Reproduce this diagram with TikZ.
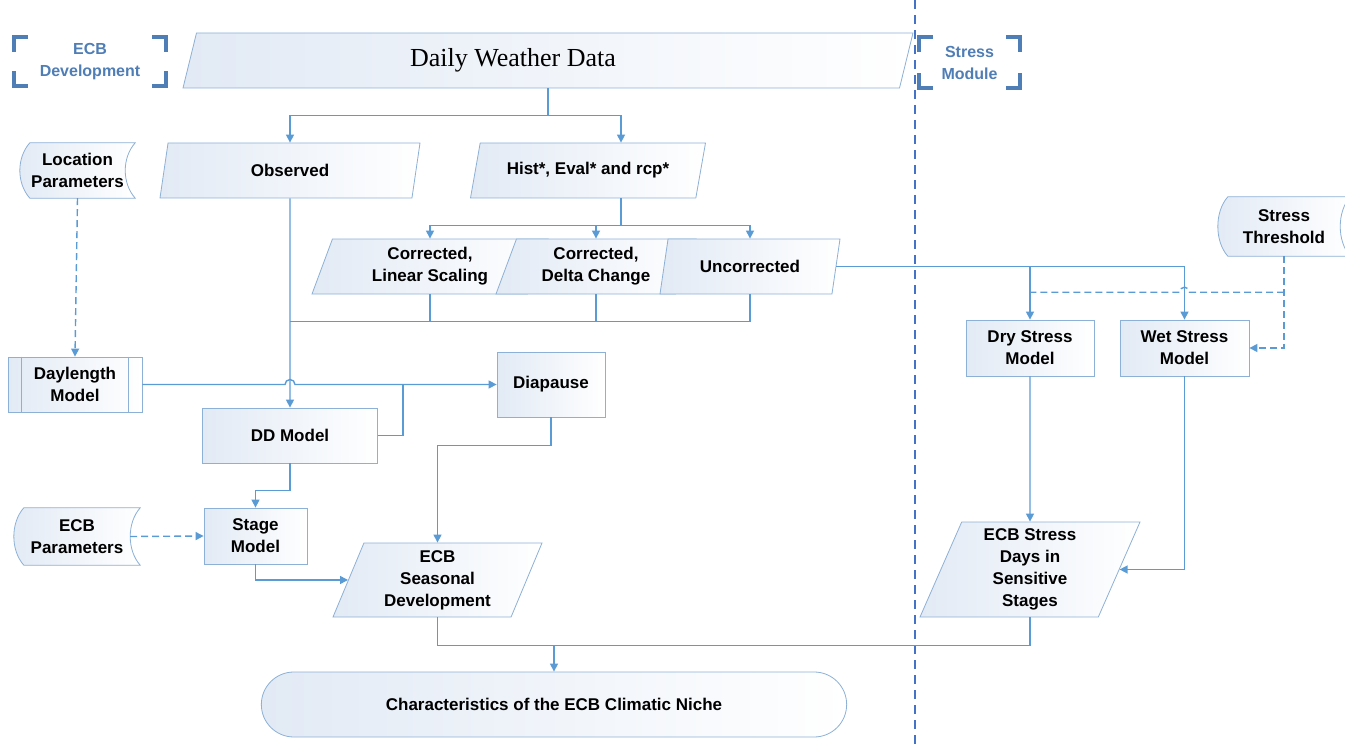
\documentclass[tikz,border=0pt]{standalone}
\usepackage{fontspec}
\setmainfont{Liberation Sans}
\newfontfamily\dwdfont{Liberation Serif}
\usetikzlibrary{shapes.geometric,shapes.misc,arrows.meta,calc,backgrounds}

\definecolor{linecol}{RGB}{91,155,213}
\definecolor{boxline}{RGB}{141,176,214}
\definecolor{boxfill}{RGB}{226,234,245}
\definecolor{brkcol}{RGB}{79,125,181}
\definecolor{divcol}{RGB}{68,114,196}

\tikzset{
    lbl/.style={font=\bfseries\fontsize{17}{22}\selectfont, align=center, text=black},
    procbox/.style={lbl, rectangle, draw=boxline, left color=boxfill, right color=white, line width=0.8pt},
    databox/.style={lbl, trapezium, trapezium left angle=64, trapezium right angle=116,
        trapezium stretches body, draw=boxline, left color=boxfill, right color=white,
        line width=0.8pt, inner xsep=0pt, inner ysep=2pt},
    storebox/.style={lbl, rectangle, inner sep=0pt},
    storeline/.style={draw=boxline, left color=boxfill, right color=white, line width=0.8pt},
    termbox/.style={lbl, rounded rectangle, draw=boxline, left color=boxfill, right color=white, line width=0.8pt},
    conn/.style={draw=linecol, line width=1.4pt},
    connarrow/.style={conn, -{Triangle[width=8pt,length=8pt]}},
    dconn/.style={conn, dash pattern=on 7pt off 4pt},
    dconnarrow/.style={dconn, -{Triangle[width=8pt,length=8pt]}},
    brk/.style={draw=brkcol, line width=3.5pt},
    grouplabel/.style={font=\bfseries\fontsize{16}{22}\selectfont, text=brkcol, align=center, inner sep=0pt},
    divider/.style={draw=divcol, line width=1.8pt, dash pattern=on 9pt off 6pt}
}

\begin{document}
\begin{tikzpicture}[x=1pt,y=-1pt]
\useasboundingbox (0,0) rectangle (1345,749);

% Group titles
\node[grouplabel, minimum width=152, minimum height=49] (ecbdev) at (90,61.5) {ECB\\Development};
\node[grouplabel, minimum width=101, minimum height=51] (stressmod) at (969.5,62.5) {Stress\\Module};
\foreach \g in {ecbdev,stressmod}{
    \draw[brk] ($(\g.north west)+(0,15)$) -- (\g.north west) -- ++(14,0);
    \draw[brk] ($(\g.south west)+(0,-15)$) -- (\g.south west) -- ++(14,0);
    \draw[brk] ($(\g.north east)+(-14,0)$) -- (\g.north east) -- ++(0,15);
    \draw[brk] ($(\g.south east)+(-14,0)$) -- (\g.south east) -- ++(0,-15);
}
\coordinate (divtop) at (915,0);
\coordinate (divbot) at (915,749);
\draw[divider] (divtop) -- (divbot);

% Weather data
\node[databox, minimum width=730, minimum height=55, font=\dwdfont\fontsize{26}{30}\selectfont] (dwd) at (548,60.5) {\hspace*{-70pt}Daily Weather Data};
\node[databox, minimum width=260, minimum height=55] (obs) at (290,170.5) {Observed};
\node[databox, minimum width=235, minimum height=55] (hist) at (588,170.5) {Hist*, Eval* and rcp*};
\node[databox, minimum width=236, minimum height=55] (lin) at (430,266.5) {Corrected,\\Linear Scaling};
\node[databox, minimum width=200, minimum height=55] (del) at (596,266.5) {Corrected,\\Delta Change};
\node[databox, minimum width=180, minimum height=55] (unc) at (750,266.5) {Uncorrected};

% ECB development
\node[storebox, minimum width=115, minimum height=55] (loc) at (77.5,170.5) {Location\\Parameters};
\node[procbox, minimum width=134, minimum height=55] (day) at (75,384.5) {Daylength\\Model};
\node[procbox, minimum width=175, minimum height=55] (dd) at (290,435.5) {DD Model};
\node[procbox, minimum width=108, minimum height=65] (dia) at (551,384.5) {Diapause};
\node[storebox, minimum width=126, minimum height=57] (par) at (77,536.5) {ECB\\Parameters};
\node[procbox, minimum width=103, minimum height=56] (stage) at (255.5,536) {Stage\\Model};
\node[databox, minimum width=209, minimum height=74] (sea) at (437.5,580) {ECB\\Seasonal\\Development};
\node[termbox, minimum width=592, minimum height=65] (niche) at (554,704.5) {Characteristics of the ECB Climatic Niche};

% Stress module
\node[storebox, minimum width=132, minimum height=59] (thr) at (1284,226.5) {Stress\\Threshold};
\node[procbox, minimum width=128, minimum height=56] (dry) at (1030,348) {Dry Stress\\Model};
\node[procbox, minimum width=129, minimum height=56] (wet) at (1184.5,348) {Wet Stress\\Model};
\node[databox, minimum width=220, minimum height=95] (days) at (1030,569.5) {ECB Stress\\Days in\\Sensitive\\Stages};

% Stored data outlines
\begin{scope}[on background layer]
\foreach \s in {loc,par,thr}
    \path[storeline] ($(\s.north west)+(10,0)$) -- (\s.north east)
        .. controls ($(\s.north east)+(-13.3,15)$) and ($(\s.south east)+(-13.3,-15)$) .. (\s.south east)
        -- ($(\s.south west)+(10,0)$)
        .. controls ($(\s.south west)+(-3.3,-15)$) and ($(\s.north west)+(-3.3,15)$) .. cycle;
\end{scope}
\draw[boxline, line width=0.8pt] ($(day.north west)+(14,0)$) -- ($(day.south west)+(14,0)$)
    ($(day.north east)+(-14,0)$) -- ($(day.south east)+(-14,0)$);

% Connections
\coordinate (topj) at ($(dwd.south)+(0,27)$);
\coordinate (histin) at ($(hist.north)+(33,0)$);
\coordinate (histout) at ($(hist.south)+(33,0)$);
\draw[conn] (dwd.south) -- (topj);
\draw[connarrow] (topj) -| (obs.north);
\draw[connarrow] (topj) -| (histin);
\coordinate (corrj) at ($(histout)+(0,27)$);
\draw[conn] (histout) -- (corrj);
\draw[connarrow] (corrj) -| (lin.north);
\draw[connarrow] (corrj) -| (del.north);
\draw[connarrow] (corrj) -| (unc.north);

\coordinate (mrg) at ($(obs.south)+(0,123)$);
\draw[conn] (unc.south) |- (mrg);
\draw[conn] (lin.south) -- (lin.south |- mrg);
\draw[conn] (del.south) -- (del.south |- mrg);
\draw[connarrow] (obs.south) -- (dd.north);

\coordinate (hop1) at (obs.south |- day.east);
\draw[connarrow] (day.east) -- ($(hop1)+(-5,0)$) arc[start angle=180, end angle=0, radius=5pt] -- (dia.west);
\coordinate (ddj) at ($(dd.east)+(25,0)$);
\draw[conn] (dd.east) -- (ddj) -- (ddj |- day.east);
\draw[dconnarrow] (loc.south) -- (day.north);
\draw[connarrow] (dia.south) -- ++(0,28) -| (sea.north);
\draw[connarrow] (dd.south) -- ++(0,27) -| (stage.north);
\coordinate (parout) at ($(par.east)+(-10,0)$);
\draw[dconnarrow] (parout) -- (stage.west);
\draw[connarrow] (stage.south) |- (sea.west);

\coordinate (botj) at ($(sea.south)+(0,28)$);
\draw[conn] (sea.south) -- (botj) -| (days.south);
\draw[connarrow] (niche.north |- botj) -- (niche.north);

\draw[connarrow] (unc.east) -| (wet.north);
\draw[connarrow] (dry.north |- unc.east) -- (dry.north);
\coordinate (thrj) at ($(thr.south)+(0,36)$);
\draw[dconnarrow] (thr.south) |- (wet.east);
\coordinate (hop2) at (wet.north |- thrj);
\draw[dconn] (thrj) -- ($(hop2)+(5,0)$) arc[start angle=0, end angle=180, radius=5pt] -- (dry.north |- thrj);
\draw[connarrow] (dry.south) -- (days.north);
\draw[connarrow] (wet.south) |- (days.east);
\end{tikzpicture}
\end{document}
